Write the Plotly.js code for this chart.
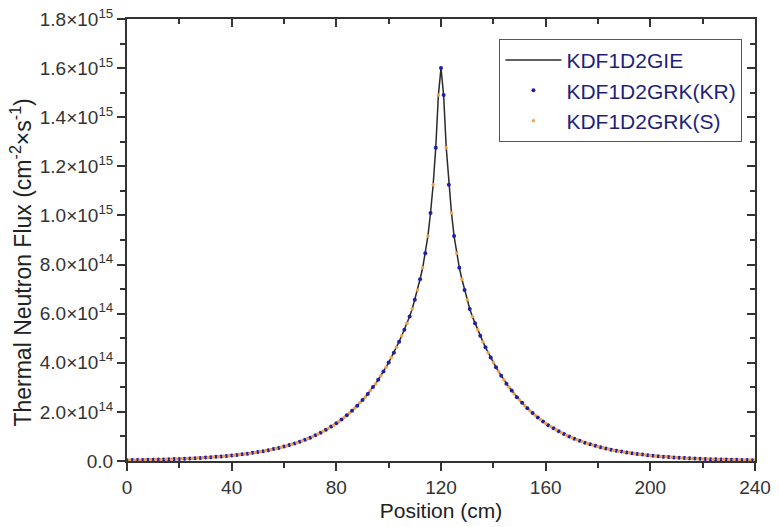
<!DOCTYPE html>
<html>
<head>
<meta charset="utf-8">
<script src="https://cdn.plot.ly/plotly-3.0.1.min.js"></script>
<style>html,body{margin:0;padding:0;background:#fff;}#chart{width:779px;height:527px;}</style>
</head>
<body>
<div id="chart"></div>
<script>
// Position (cm) grid of the KDF1D2GIE curve
const positionGIE = [0,1,2,3,4,5,6,7,8,9,10,11,12,13,14,15,16,17,18,19,20,21,22,23,24,25,26,27,28,29,30,31,32,33,34,35,36,37,38,39,40,41,42,43,44,45,46,47,48,49,50,51,52,53,54,55,56,57,58,59,60,61,62,63,64,65,66,67,68,69,70,71,72,73,74,75,76,77,78,79,80,81,82,83,84,85,86,87,88,89,90,91,92,93,94,95,96,97,98,99,100,101,102,103,104,105,106,107,108,109,110,111,112,113,114,115,116,117,118,119,120,121,122,123,124,125,126,127,128,129,130,131,132,133,134,135,136,137,138,139,140,141,142,143,144,145,146,147,148,149,150,151,152,153,154,155,156,157,158,159,160,161,162,163,164,165,166,167,168,169,170,171,172,173,174,175,176,177,178,179,180,181,182,183,184,185,186,187,188,189,190,191,192,193,194,195,196,197,198,199,200,201,202,203,204,205,206,207,208,209,210,211,212,213,214,215,216,217,218,219,220,221,222,223,224,225,226,227,228,229,230,231,232,233,234,235,236,237,238,239,240];
// Thermal neutron flux, in units of 1e15 cm^-2 s^-1
const fluxGIE = [0.0033,0.0035,0.0037,0.0038,0.0040,0.0042,0.0044,0.0047,0.0049,0.0051,0.0054,0.0056,0.0059,0.0062,0.0065,0.0068,0.0071,0.0075,0.0079,0.0082,0.0086,0.0091,0.0095,0.0100,0.0104,0.0110,0.0115,0.0121,0.0126,0.0133,0.0139,0.0146,0.0153,0.0161,0.0169,0.0177,0.0186,0.0195,0.0205,0.0215,0.0225,0.0236,0.0248,0.0260,0.0273,0.0286,0.0300,0.0315,0.0331,0.0347,0.0364,0.0382,0.0401,0.0420,0.0441,0.0463,0.0485,0.0509,0.0534,0.0560,0.0588,0.0617,0.0647,0.0679,0.0713,0.0748,0.0784,0.0823,0.0863,0.0906,0.0950,0.0997,0.105,0.110,0.115,0.121,0.127,0.133,0.140,0.146,0.154,0.161,0.169,0.177,0.186,0.195,0.205,0.215,0.225,0.237,0.248,0.260,0.273,0.287,0.301,0.315,0.331,0.347,0.364,0.382,0.401,0.421,0.441,0.463,0.486,0.510,0.535,0.561,0.588,0.619,0.657,0.696,0.740,0.787,0.846,0.916,1.010,1.125,1.276,1.490,1.600,
1.490,1.276,1.125,1.010,0.916,0.846,0.787,0.740,0.696,0.657,0.619,0.588,0.561,0.535,0.510,0.486,0.463,0.441,0.421,0.401,0.382,0.364,0.347,0.331,0.315,0.301,0.287,0.273,0.260,0.248,0.237,0.225,0.215,0.205,0.195,0.186,0.177,0.169,0.161,0.154,0.146,0.140,0.133,0.127,0.121,0.115,0.110,0.105,0.0997,0.0950,0.0906,0.0863,0.0823,0.0784,0.0748,0.0713,0.0679,0.0647,0.0617,0.0588,0.0560,0.0534,0.0509,0.0485,0.0463,0.0441,0.0420,0.0401,0.0382,0.0364,0.0347,0.0331,0.0315,0.0300,0.0286,0.0273,0.0260,0.0248,0.0236,0.0225,0.0215,0.0205,0.0195,0.0186,0.0177,0.0169,0.0161,0.0153,0.0146,0.0139,0.0133,0.0126,0.0121,0.0115,0.0110,0.0104,0.0100,0.0095,0.0091,0.0086,0.0082,0.0079,0.0075,0.0071,0.0068,0.0065,0.0062,0.0059,0.0056,0.0054,0.0051,0.0049,0.0047,0.0044,0.0042,0.0040,0.0038,0.0037,0.0035,0.0033];

const positionKR = [0,2,4,6,8,10,12,14,16,18,20,22,24,26,28,30,32,34,36,38,40,42,44,46,48,50,52,54,56,58,60,62,64,66,68,70,72,74,76,78,80,82,84,86,88,90,92,94,96,98,100,102,104,106,108,110,112,114,116,118,120,121,123,125,127,129,131,133,135,137,139,141,143,145,147,149,151,153,155,157,159,161,163,165,167,169,171,173,175,177,179,181,183,185,187,189,191,193,195,197,199,201,203,205,207,209,211,213,215,217,219,221,223,225,227,229,231,233,235,237,239];
const fluxKR = [0.0033,0.0037,0.0040,0.0044,0.0049,0.0054,0.0059,0.0065,0.0071,0.0079,0.0086,0.0095,0.0104,0.0115,0.0126,0.0139,0.0153,0.0169,0.0186,0.0205,0.0225,0.0248,0.0273,0.0300,0.0331,0.0364,0.0401,0.0441,0.0485,0.0534,0.0588,0.0647,0.0713,0.0784,0.0863,0.0950,0.105,0.115,0.127,0.140,0.154,0.169,0.186,0.205,0.225,0.248,0.273,0.301,0.331,0.364,0.401,0.441,0.486,0.535,0.588,0.657,0.740,0.846,1.010,1.276,1.600,
1.490,1.125,0.916,0.787,0.696,0.619,0.561,0.510,0.463,0.421,0.382,0.347,0.315,0.287,0.260,0.237,0.215,0.195,0.177,0.161,0.146,0.133,0.121,0.110,0.0997,0.0906,0.0823,0.0748,0.0679,0.0617,0.0560,0.0509,0.0463,0.0420,0.0382,0.0347,0.0315,0.0286,0.0260,0.0236,0.0215,0.0195,0.0177,0.0161,0.0146,0.0133,0.0121,0.0110,0.0100,0.0091,0.0082,0.0075,0.0068,0.0062,0.0056,0.0051,0.0047,0.0042,0.0038,0.0035];

const positionS = [1,3,5,7,9,11,13,15,17,19,21,23,25,27,29,31,33,35,37,39,41,43,45,47,49,51,53,55,57,59,61,63,65,67,69,71,73,75,77,79,81,83,85,87,89,91,93,95,97,99,101,103,105,107,109,111,113,115,117,119,122,124,126,128,130,132,134,136,138,140,142,144,146,148,150,152,154,156,158,160,162,164,166,168,170,172,174,176,178,180,182,184,186,188,190,192,194,196,198,200,202,204,206,208,210,212,214,216,218,220,222,224,226,228,230,232,234,236,238,240];
const fluxS = [0.0035,0.0038,0.0042,0.0047,0.0051,0.0056,0.0062,0.0068,0.0075,0.0082,0.0091,0.0100,0.0110,0.0121,0.0133,0.0146,0.0161,0.0177,0.0195,0.0215,0.0236,0.0260,0.0286,0.0315,0.0347,0.0382,0.0420,0.0463,0.0509,0.0560,0.0617,0.0679,0.0748,0.0823,0.0906,0.0997,0.110,0.121,0.133,0.146,0.161,0.177,0.195,0.215,0.237,0.260,0.287,0.315,0.347,0.382,0.421,0.463,0.510,0.561,0.619,0.696,0.787,0.916,1.125,1.490,
1.276,1.010,0.846,0.740,0.657,0.588,0.535,0.486,0.441,0.401,0.364,0.331,0.301,0.273,0.248,0.225,0.205,0.186,0.169,0.154,0.140,0.127,0.115,0.105,0.0950,0.0863,0.0784,0.0713,0.0647,0.0588,0.0534,0.0485,0.0441,0.0401,0.0364,0.0331,0.0300,0.0273,0.0248,0.0225,0.0205,0.0186,0.0169,0.0153,0.0139,0.0126,0.0115,0.0104,0.0095,0.0086,0.0079,0.0071,0.0065,0.0059,0.0054,0.0049,0.0044,0.0040,0.0037,0.0033];

const seriesNames = ['KDF1D2GIE', 'KDF1D2GRK(KR)', 'KDF1D2GRK(S)'];
const xTitle = 'Position (cm)';
const yTitle = 'Thermal Neutron Flux (cm<sup>-2</sup>×s<sup>-1</sup>)';
const xTickVals = [0, 40, 80, 120, 160, 200, 240];
const yTickVals = [0, 0.2, 0.4, 0.6, 0.8, 1.0, 1.2, 1.4, 1.6, 1.8];
const yTickText = ['0.0', '2.0×10<sup>14</sup>', '4.0×10<sup>14</sup>', '6.0×10<sup>14</sup>', '8.0×10<sup>14</sup>',
  '1.0×10<sup>15</sup>', '1.2×10<sup>15</sup>', '1.4×10<sup>15</sup>', '1.6×10<sup>15</sup>', '1.8×10<sup>15</sup>'];

const FONT = '"Liberation Sans", Arial, sans-serif';
const AX = '#333333';

const traces = [
  {x: positionGIE, y: fluxGIE, name: seriesNames[0], type: 'scatter', mode: 'lines',
   line: {color: '#2b2b2b', width: 1.5}},
  {x: positionKR, y: fluxKR, name: seriesNames[1], type: 'scatter', mode: 'markers',
   marker: {color: '#1f1fa8', size: 4, symbol: 'circle'}},
  {x: positionS, y: fluxS, name: seriesNames[2], type: 'scatter', mode: 'markers',
   marker: {color: '#f2a24c', size: 3.5, symbol: 'circle'}},
  {x: [], y: [], xaxis: 'x2', yaxis: 'y2', showlegend: false, hoverinfo: 'skip', type: 'scatter'}
];

const layout = {
  width: 779, height: 527,
  margin: {l: 127, r: 24, t: 19, b: 66},
  paper_bgcolor: '#ffffff', plot_bgcolor: '#ffffff',
  font: {family: FONT, color: AX},
  showlegend: true,
  legend: {
    x: 0.980, xanchor: 'right', y: 0.955, yanchor: 'top',
    bordercolor: '#555555', borderwidth: 1, bgcolor: '#ffffff',
    itemwidth: 56, tracegroupgap: 0,
    font: {family: FONT, size: 21, color: '#1f1f7a'}
  },
  annotations: [{
    text: yTitle, textangle: -90, xref: 'paper', yref: 'paper',
    x: -0.168, y: 0.45, xanchor: 'center', yanchor: 'middle', showarrow: false,
    font: {family: FONT, size: 23, color: '#222'}
  }],
  xaxis: {
    range: [0, 240], tickvals: xTickVals, ticks: 'outside', ticklen: 8, tickwidth: 2, tickcolor: AX,
    minor: {dtick: 20, tick0: 0, ticks: 'outside', ticklen: 5, tickwidth: 2, tickcolor: AX},
    showline: true, linewidth: 2, linecolor: AX, showgrid: false, zeroline: false,
    tickfont: {family: FONT, size: 19, color: AX},
    title: {text: xTitle, font: {family: FONT, size: 21, color: '#222'}, standoff: 7}
  },
  yaxis: {
    range: [0, 1.8], tickvals: yTickVals, ticktext: yTickText, ticks: 'outside', ticklen: 8, tickwidth: 2, tickcolor: AX,
    minor: {dtick: 0.1, tick0: 0, ticks: 'outside', ticklen: 5, tickwidth: 2, tickcolor: AX},
    showline: true, linewidth: 2, linecolor: AX, showgrid: false, zeroline: false,
    tickfont: {family: FONT, size: 19, color: AX}
  },
  xaxis2: {
    overlaying: 'x', side: 'top', anchor: 'y2', range: [0, 240], tickvals: xTickVals,
    ticks: 'inside', ticklen: 8, tickwidth: 2, tickcolor: AX,
    minor: {dtick: 20, tick0: 0, ticks: 'inside', ticklen: 5, tickwidth: 2, tickcolor: AX},
    showticklabels: false, showline: true, linewidth: 2, linecolor: AX, showgrid: false, zeroline: false
  },
  yaxis2: {
    overlaying: 'y', side: 'right', anchor: 'x2', range: [0, 1.8], tickvals: yTickVals,
    ticks: 'inside', ticklen: 8, tickwidth: 2, tickcolor: AX,
    minor: {dtick: 0.1, tick0: 0, ticks: 'inside', ticklen: 5, tickwidth: 2, tickcolor: AX},
    showticklabels: false, showline: true, linewidth: 2, linecolor: AX, showgrid: false, zeroline: false
  }
};

Plotly.newPlot('chart', traces, layout, {displayModeBar: false, staticPlot: true});
</script>
</body>
</html>
